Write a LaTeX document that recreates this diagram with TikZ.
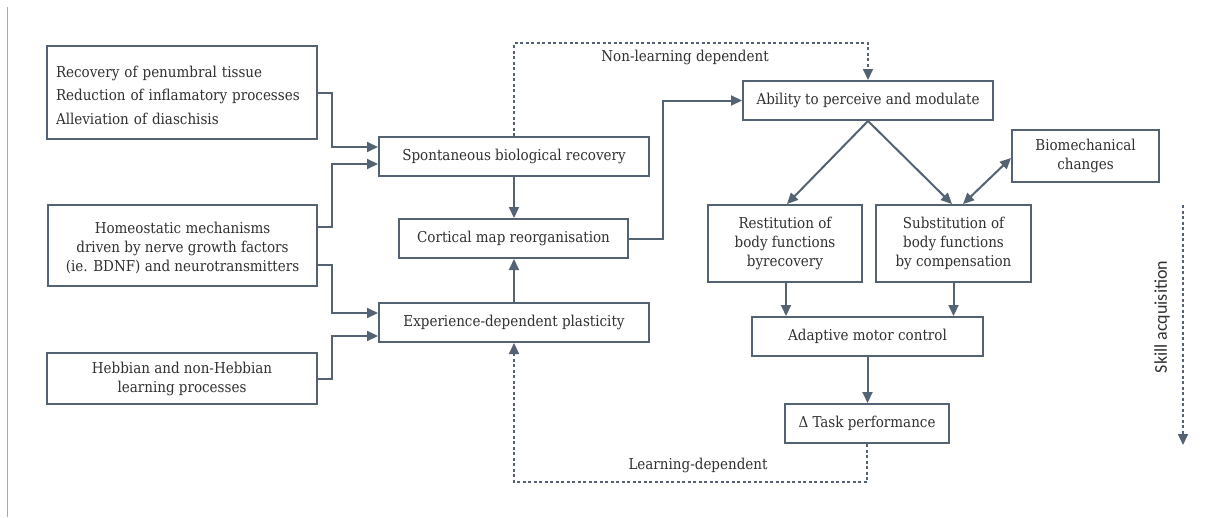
\documentclass[tikz,border=0pt]{standalone}
\usepackage{fontspec}
\setmainfont{DejaVu Serif Condensed}
\newfontfamily\skillfont{Carlito}
\usetikzlibrary{arrows.meta,calc}

\definecolor{slate}{RGB}{84,99,115}
\definecolor{ink}{RGB}{48,48,48}
\definecolor{rule}{RGB}{170,170,170}

\tikzset{
  box/.style={draw=slate, line width=2pt, text=ink, inner sep=0pt, align=center,
              font=\fontsize{15}{19}\selectfont},
  arr/.style={draw=slate, line width=2pt, -{Triangle[length=11pt,width=10pt]}},
  dasharr/.style={draw=slate, line width=1.7pt, dash pattern=on 3pt off 2.5pt,
                  -{Triangle[length=11pt,width=10pt]}},
  lbl/.style={text=ink, font=\fontsize{15}{19}\selectfont},
}

\begin{document}
\begin{tikzpicture}[x=1pt,y=-1pt]
\useasboundingbox (0,0) rectangle (1212,517);

% thin rule at the left edge
\draw[rule, line width=1pt] (7,7) -- (7,517);

% input boxes on the left
\node[box, minimum width=270pt, minimum height=93pt, text width=252pt, align=left,
      font=\fontsize{15}{23.5}\selectfont] (b1) at (182,92.5)
  {\rule{0pt}{17pt}Recovery of penumbral tissue\\Reduction of inflamatory processes\\Alleviation of diaschisis};
\node[box, minimum width=269pt, minimum height=81pt] (b2) at (182.5,245.5)
  {\rule{0pt}{16pt}Homeostatic mechanisms\\driven by nerve growth factors\\(ie. BDNF) and neurotransmitters};
\node[box, minimum width=270pt, minimum height=51pt] (b3) at (182,378.5)
  {Hebbian and non-Hebbian\\learning processes};

% central column
\node[box, minimum width=270pt, minimum height=39pt] (spont) at (514,156.5) {Spontaneous biological recovery};
\node[box, minimum width=229pt, minimum height=39pt] (cort) at (513.5,238.5) {Cortical map reorganisation};
\node[box, minimum width=270pt, minimum height=39pt] (exper) at (514,322.5) {Experience-dependent plasticity};

% right part
\node[box, minimum width=250pt, minimum height=39pt] (abil) at (868,100.5) {Ability to perceive and modulate};
\node[box, minimum width=147pt, minimum height=52pt] (bio) at (1085.5,156) {Biomechanical\\changes};
\node[box, minimum width=154pt, minimum height=77pt] (rest) at (785,243.5) {Restitution of\\body functions\\byrecovery};
\node[box, minimum width=155pt, minimum height=77pt] (subst) at (953.5,243.5) {Substitution of\\body functions\\by compensation};
\node[box, minimum width=231pt, minimum height=39pt] (adapt) at (867.5,336.5) {Adaptive motor control};
\node[box, minimum width=164pt, minimum height=39pt] (task) at (867,423.5) {Δ Task performance};

% routing points
\coordinate (bus) at (332,0);
\coordinate (cx) at (663,0);
\coordinate (top) at (700,43);
\coordinate (bot) at (700,482);
\coordinate (s1) at (1183,205);
\coordinate (s2) at (1183,445);

% left inputs into the central column
\draw[arr] (b1.east) -- (b1.east -| bus) |- ($(spont.west)+(0,-9.5)$);
\draw[arr] ($(b2.east)+(0,-18.5)$) -- ($(b2.east -| bus)+(0,-18.5)$) |- ($(spont.west)+(0,7.5)$);
\draw[arr] ($(b2.east)+(0,19.5)$) -- ($(b2.east -| bus)+(0,19.5)$) |- ($(exper.west)+(0,-9.5)$);
\draw[arr] (b3.east) -- (b3.east -| bus) |- ($(exper.west)+(0,13.5)$);

% central column
\draw[arr] (spont.south) -- (spont.south |- cort.north);
\draw[arr] (exper.north) -- (exper.north |- cort.south);
\draw[arr] (cort.east) -- (cort.east -| cx) |- (abil.west);

% non-learning dependent loop
\draw[dasharr] (spont.north) |- (top) -| (abil.north);
\node[lbl] (nl) at (685,57) {Non-learning dependent};

% right part
\draw[arr] (abil.south) -- ($(rest.north)+(2,0)$);
\draw[arr] (abil.south) -- ($(subst.north)+(-1.5,0)$);
\draw[slate, line width=2pt, {Triangle[length=11pt,width=10pt]}-{Triangle[length=11pt,width=10pt]}]
  ($(subst.north)+(9.5,0)$) -- ($(bio.west)+(0,2)$);
\draw[arr] ($(rest.south)+(1,0)$) -- ($(rest.south |- adapt.north)+(1,0)$);
\draw[arr] (subst.south) -- (subst.south |- adapt.north);
\draw[arr] (adapt.south) -- (adapt.south |- task.north);

% learning dependent loop
\draw[dasharr] (task.south) |- (bot) -| (exper.south);
\node[lbl] (ld) at (698,465) {Learning-dependent};

% skill acquisition
\draw[dasharr] (s1) -- (s2);
\node[text=ink, rotate=90, font=\skillfont\fontsize{18}{20}\selectfont] (sk) at (1162,317) {Skill acquisition};
\end{tikzpicture}
\end{document}
